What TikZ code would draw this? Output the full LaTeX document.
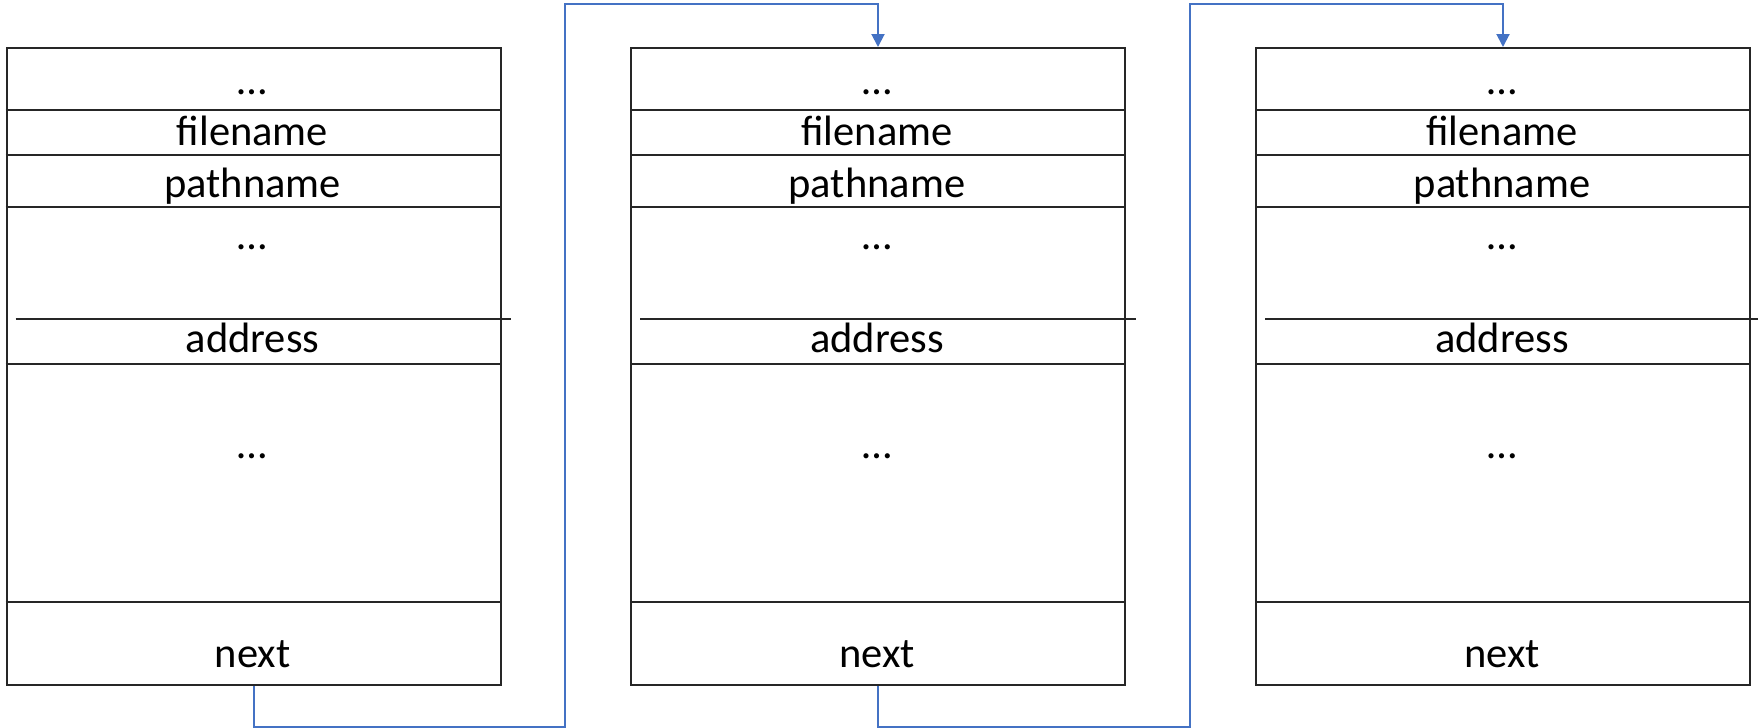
\documentclass[tikz,border=0pt]{standalone}
\usepackage{fontspec}
\setmainfont{Carlito}
\usetikzlibrary{arrows.meta}
\definecolor{linkblue}{HTML}{4472C4}
\definecolor{boxline}{HTML}{262626}
\begin{document}
\begin{tikzpicture}[x=0.5pt,y=-0.5pt,
  box/.style={draw=boxline, line width=1pt, inner sep=0pt, minimum width=247pt, minimum height=318.5pt, anchor=north west},
  sep/.style={draw=boxline, line width=1pt},
  field/.style={anchor=base, inner sep=0pt, font=\fontsize{21.25}{25}\selectfont},
  link/.style={draw=linkblue, line width=1pt, -{Triangle[width=6.5pt,length=6.5pt]}}]
\useasboundingbox (0,0) rectangle (1758,728);
\foreach \i/\x in {1/5.5,2/630,3/1255}{
  \node[box] (b\i) at (\x,47) {};
  \draw[sep] (\x,110) -- ++(494,0);
  \draw[sep] (\x,155) -- ++(494,0);
  \draw[sep] (\x,207) -- ++(494,0);
  \draw[sep] (\x+10,319) -- ++(495.5,0);
  \draw[sep] (\x,364) -- ++(494,0);
  \draw[sep] (\x,602) -- ++(494,0);
  \node[field] (d\i a) at (\x+247,94) {…};
  \node[field] (fn\i) at (\x+247,145) {filename};
  \node[field] (pn\i) at (\x+247,197) {pathname};
  \node[field] (d\i b) at (\x+247,249) {…};
  \node[field] (ad\i) at (\x+247,352) {address};
  \node[field] (d\i c) at (\x+247,458) {…};
  \node[field] (nx\i) at (\x+247,667) {next};
}
\coordinate (t1) at (565,726.5);
\coordinate (u1) at (565,4);
\coordinate (t2) at (1190,726.5);
\coordinate (u2) at (1190,4);
\draw[link] (b1.south) |- (t1) -- (u1) -| (b2.north);
\draw[link] (b2.south) |- (t2) -- (u2) -| (b3.north);
\end{tikzpicture}
\end{document}
